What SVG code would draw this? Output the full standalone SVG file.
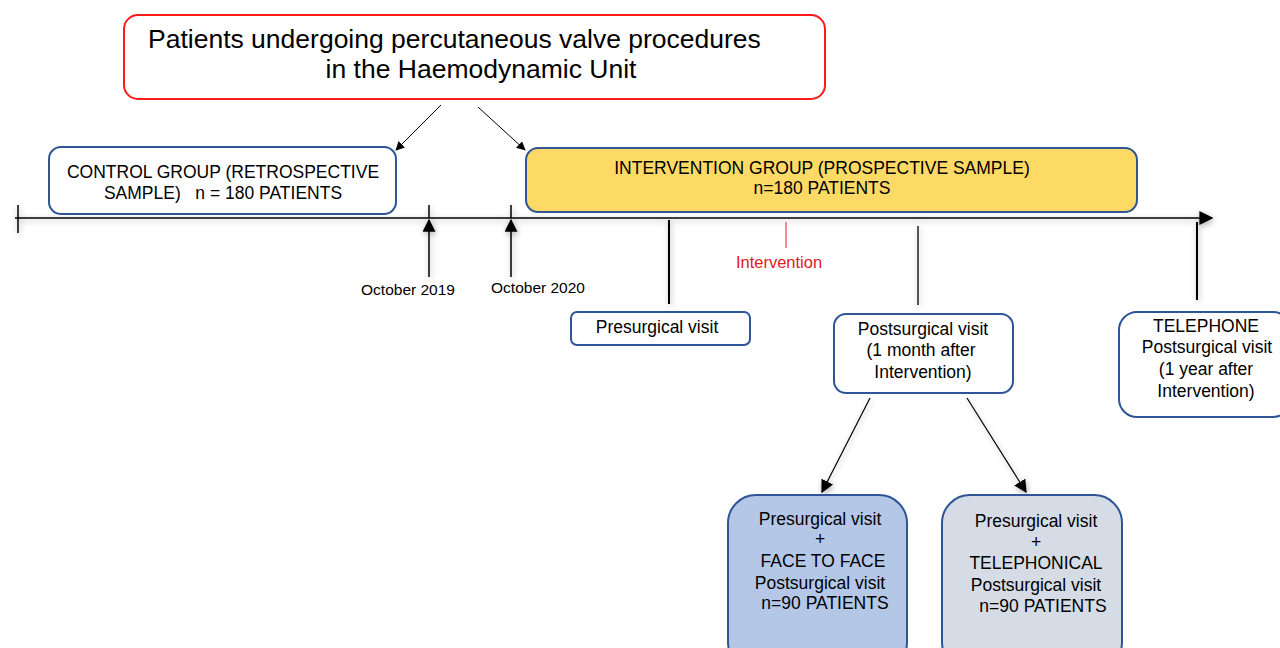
<svg xmlns="http://www.w3.org/2000/svg" width="1280" height="648" viewBox="0 0 1280 648">
<defs>
<marker id="ah" viewBox="0 0 10 10" refX="9" refY="5" markerWidth="9" markerHeight="9" markerUnits="userSpaceOnUse" orient="auto"><path d="M0,0 L10,5 L0,10 z" fill="#000"/></marker>
<marker id="ahb" viewBox="0 0 10 10" refX="9" refY="5" markerWidth="13" markerHeight="13" markerUnits="userSpaceOnUse" orient="auto"><path d="M0,0 L10,5 L0,10 z" fill="#000"/></marker>
<marker id="ahl" viewBox="0 0 10 10" refX="9" refY="5" markerWidth="14" markerHeight="14" markerUnits="userSpaceOnUse" orient="auto"><path d="M0,0 L10,5 L0,10 z" fill="#000"/></marker>
<filter id="sh" x="-20%" y="-20%" width="140%" height="140%"><feGaussianBlur in="SourceAlpha" stdDeviation="3"/><feOffset dx="1" dy="2"/><feComponentTransfer><feFuncA type="linear" slope="0.35"/></feComponentTransfer><feMerge><feMergeNode/><feMergeNode in="SourceGraphic"/></feMerge></filter>
</defs>
<style>
text{font-family:"Liberation Sans",Arial,sans-serif;fill:#000;}
.t16{font-size:17.5px;text-anchor:middle;}
.t14{font-size:15.5px;text-anchor:middle;}
.box{fill:#fff;stroke:#2f5597;stroke-width:2;}
.ln{stroke:#000;fill:none;}
</style>
<rect width="1280" height="648" fill="#fff"/>
<g id="connectors">
<g filter="url(#sh)">
<line class="ln" x1="15" y1="218" x2="1212" y2="218" stroke-width="1.5" marker-end="url(#ahl)"/>
<line class="ln" x1="18" y1="205" x2="18" y2="233" stroke-width="1.5"/>
<line class="ln" x1="429" y1="205" x2="429" y2="218" stroke-width="1.5"/>
<line class="ln" x1="511" y1="205" x2="511" y2="218" stroke-width="1.5"/>
<line class="ln" x1="429" y1="277" x2="429" y2="220" stroke-width="1.5" marker-end="url(#ahb)"/>
<line class="ln" x1="511" y1="277" x2="511" y2="220" stroke-width="1.5" marker-end="url(#ahb)"/>
<line class="ln" x1="669" y1="220" x2="669" y2="304" stroke-width="2"/>
<line class="ln" x1="918" y1="226" x2="918" y2="305" stroke-width="1.3"/>
<line class="ln" x1="1197" y1="222" x2="1197" y2="300" stroke-width="2"/>
<line class="ln" x1="870" y1="398" x2="822" y2="492" stroke-width="1.2" marker-end="url(#ahb)"/>
<line class="ln" x1="967" y1="398" x2="1026" y2="492" stroke-width="1.2" marker-end="url(#ahb)"/>
</g>
<line x1="786" y1="222" x2="786" y2="248" stroke="#e02020" stroke-width="1"/>
<line class="ln" x1="441" y1="105" x2="396" y2="150" stroke-width="1" marker-end="url(#ah)"/>
<line class="ln" x1="478" y1="107" x2="525" y2="150" stroke-width="1" marker-end="url(#ah)"/>
</g>
<g id="title">
<rect x="124" y="15" width="701" height="84" rx="14" fill="#fff" stroke="#ff1a1a" stroke-width="2"/>
<text x="148" y="48" font-size="26.5">Patients undergoing percutaneous valve procedures</text>
<text x="481" y="78" font-size="26.5" text-anchor="middle">in the Haemodynamic Unit</text>
</g>
<g id="control">
<rect class="box" x="49" y="147" width="347" height="67" rx="12"/>
<text class="t16" x="223" y="178">CONTROL GROUP (RETROSPECTIVE</text>
<text class="t16" x="223" y="199" xml:space="preserve">SAMPLE)   n = 180 PATIENTS</text>
</g>
<g id="intervention">
<rect x="526" y="148" width="611" height="64" rx="12" fill="#fdd966" stroke="#2f5597" stroke-width="2"/>
<text class="t16" x="822" y="174">INTERVENTION GROUP (PROSPECTIVE SAMPLE)</text>
<text class="t16" x="822" y="194">n=180 PATIENTS</text>
</g>
<g id="dates">
<text class="t14" x="408" y="295">October 2019</text>
<text class="t14" x="538" y="293">October 2020</text>
<text x="779" y="268" font-size="16.5" text-anchor="middle" style="fill:#e02020">Intervention</text>
</g>
<g id="presurgical">
<rect class="box" x="571" y="312" width="179" height="33" rx="6"/>
<text class="t16" x="657" y="333">Presurgical visit</text>
</g>
<g id="postsurgical">
<rect class="box" x="834" y="314" width="179" height="79" rx="12"/>
<text class="t16" x="923" y="335">Postsurgical visit</text>
<text class="t16" x="921" y="356">(1 month after</text>
<text class="t16" x="923" y="378">Intervention)</text>
</g>
<g id="telephone">
<rect class="box" x="1119" y="312" width="172" height="105" rx="18"/>
<text class="t16" x="1206" y="332">TELEPHONE</text>
<text class="t16" x="1207" y="353">Postsurgical visit</text>
<text class="t16" x="1206" y="375">(1 year after</text>
<text class="t16" x="1206" y="397">Intervention)</text>
</g>
<g id="faceToFace">
<rect x="728" y="495" width="179" height="175" rx="28" fill="#b4c7e7" stroke="#2f5597" stroke-width="2"/>
<text class="t16" x="820" y="525">Presurgical visit</text>
<text class="t16" x="820" y="545">+</text>
<text class="t16" x="823" y="567">FACE TO FACE</text>
<text class="t16" x="820" y="589">Postsurgical visit</text>
<text class="t16" x="825" y="609">n=90 PATIENTS</text>
</g>
<g id="telephonical">
<rect x="942" y="495" width="180" height="175" rx="28" fill="#d6dce5" stroke="#2f5597" stroke-width="2"/>
<text class="t16" x="1036" y="527">Presurgical visit</text>
<text class="t16" x="1036" y="548">+</text>
<text class="t16" x="1036" y="569">TELEPHONICAL</text>
<text class="t16" x="1036" y="591">Postsurgical visit</text>
<text class="t16" x="1043" y="612">n=90 PATIENTS</text>
</g>
</svg>
